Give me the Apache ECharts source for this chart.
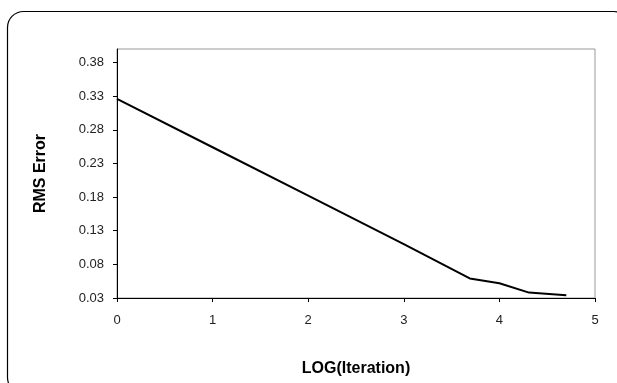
<!DOCTYPE html>
<html>
<head>
<meta charset="utf-8">
<script src="https://cdn.jsdelivr.net/npm/echarts@6/dist/echarts.min.js"></script>
<style>
  html, body { margin: 0; padding: 0; background: #fff; }
  #chart { width: 617px; height: 383px; }
</style>
</head>
<body>
<div id="chart"></div>
<script>
// RMS error of training against log10 of the iteration count
const logIteration = [0, 1, 2, 3, 3.69, 4.0, 4.31, 4.52, 4.70];
const rmsError     = [0.326, 0.254, 0.182, 0.110, 0.059, 0.052, 0.038, 0.036, 0.034];
const yTickValues  = [0.03, 0.08, 0.13, 0.18, 0.23, 0.28, 0.33, 0.38];
const xTickValues  = [0, 1, 2, 3, 4, 5];

const points = logIteration.map((x, i) => [x, rmsError[i]]);

const chart = echarts.init(document.getElementById('chart'), null, { renderer: 'canvas' });
const font = 'Liberation Sans, Arial, sans-serif';

chart.setOption({
  animation: false,
  backgroundColor: '#fff',
  graphic: [{
    type: 'rect',
    shape: { x: 7.5, y: 11.5, width: 622, height: 382, r: 16 },
    style: { fill: 'none', stroke: '#000', lineWidth: 1.2 },
    silent: true
  }],
  grid: {
    left: 117, right: 22, top: 49, bottom: 85,
    show: true, borderColor: '#999', borderWidth: 1, backgroundColor: 'transparent'
  },
  xAxis: {
    type: 'value', min: 0, max: 5, interval: 1,
    name: 'LOG(Iteration)', nameLocation: 'middle', nameGap: 63,
    nameTextStyle: { fontFamily: font, fontSize: 16, fontWeight: 'bold', color: '#000' },
    axisLine: { show: true, lineStyle: { color: '#000', width: 1 } },
    axisTick: { show: true, length: 4, inside: false, lineStyle: { color: '#000' }, customValues: xTickValues },
    axisLabel: { fontFamily: font, fontSize: 13, color: '#222', margin: 16, customValues: xTickValues },
    splitLine: { show: false }
  },
  yAxis: {
    type: 'value', min: 0.03, max: 0.40,
    name: 'RMS Error', nameLocation: 'middle', nameGap: 68, nameRotate: 90,
    nameTextStyle: { fontFamily: font, fontSize: 16, fontWeight: 'bold', color: '#000' },
    axisLine: { show: true, lineStyle: { color: '#000', width: 1 } },
    axisTick: { show: true, length: 4, inside: false, lineStyle: { color: '#000' }, customValues: yTickValues },
    axisLabel: {
      fontFamily: font, fontSize: 13, color: '#222', margin: 13,
      customValues: yTickValues,
      formatter: v => v.toFixed(2)
    },
    splitLine: { show: false }
  },
  series: [{
    type: 'line',
    data: points,
    showSymbol: false,
    smooth: false,
    lineStyle: { color: '#000', width: 2 },
    z: 5
  }]
});
</script>
</body>
</html>
